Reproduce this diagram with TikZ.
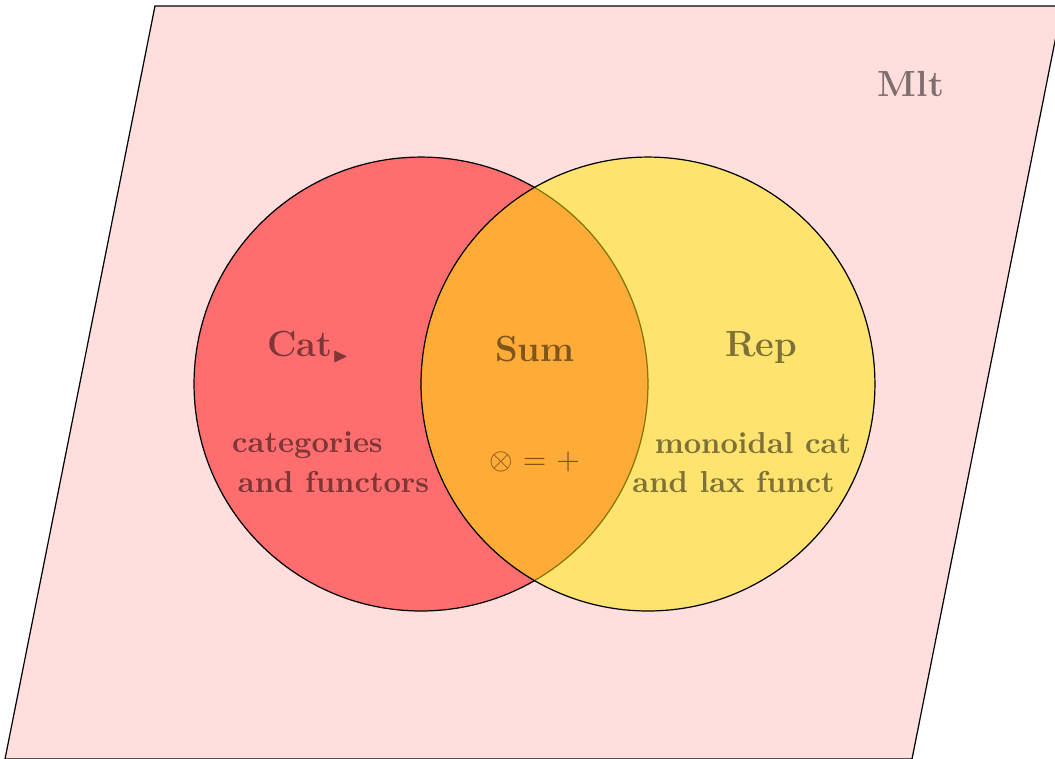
\documentclass[tikz,border=0pt]{standalone}
\usepackage{amsmath, amssymb}
\usepackage{tikz}
\usetikzlibrary{positioning}
\tikzset{>=latex}
\colorlet{mltpink}{red!13}
\colorlet{repyellow}{yellow!96!red}
\tikzset{
  venn/.style={draw=black, fill opacity=0.5},
  lbl/.style={text opacity=0.5, font=\bfseries, anchor=base, inner sep=0pt}
}

\begin{document}
\begin{tikzpicture}
        \useasboundingbox (0,0) rectangle (12.239,-8.805);
        % Mlt
        \draw[fill=mltpink] (1.798,-0.070) -- (12.32,-0.070) -- (10.580,-8.805) -- (0.058,-8.805) -- cycle;
        \node[lbl, font=\large\bfseries] (mlt) at (10.568,-1.125) {Mlt};
        % circles
        \coordinate (catc) at (4.884,-4.455);
        \coordinate (repc) at (7.517,-4.455);
        \draw[venn, fill=red] (catc) circle (2.633);
        \draw[venn, fill=repyellow] (repc) circle (2.633);
        % Cat
        \node[lbl, font=\large\bfseries] (cat) at (3.580,-4.130) {Cat$_{\scriptscriptstyle\blacktriangleright}$};
        \node[lbl] (cat1) at (3.567,-5.244) {categories};
        \node[lbl] (cat2) at (3.869,-5.719) {and functors};
        % Sum
        \node[lbl, font=\large\bfseries] (sum) at (6.206,-4.190) {Sum};
        \node[lbl, font=\normalsize] (sum1) at (6.201,-5.441) {$\otimes$ = $+$};
        % Rep
        \node[lbl, font=\large\bfseries] (rep) at (8.828,-4.135) {Rep};
        \node[lbl] (rep1) at (8.735,-5.260) {monoidal cat};
        \node[lbl] (rep2) at (8.509,-5.719) {and lax funct};
        \end{tikzpicture}
\end{document}
